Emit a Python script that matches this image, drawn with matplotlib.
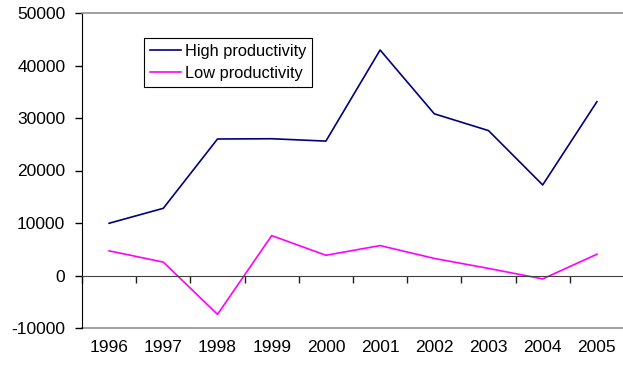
import matplotlib
matplotlib.use("Agg")
import matplotlib.pyplot as plt
import numpy as np

years = ["1996", "1997", "1998", "1999", "2000", "2001", "2002", "2003", "2004", "2005"]
high_productivity = [9950, 12800, 26000, 26050, 25600, 42950, 30800, 27600, 17250, 33100]
low_productivity = [4700, 2550, -7400, 7600, 3850, 5700, 3250, 1350, -650, 4050]
y_ticks = [-10000, 0, 10000, 20000, 30000, 40000, 50000]

plt.rcParams['font.family'] = ['Liberation Sans', 'DejaVu Sans']

fig = plt.figure(figsize=(6.23, 3.71), dpi=100)
ax = fig.add_axes([82/623, 43/371, 542/623, 315/371])

x = np.arange(len(years))
ax.plot(x, high_productivity, color='#000080', lw=1.2, label='High productivity')
ax.plot(x, low_productivity, color='#FF00FF', lw=1.2, label='Low productivity')

ax.set_xlim(-0.5, len(years) - 0.5)
ax.set_ylim(-10000, 50000)
ax.set_yticks(y_ticks)
ax.set_yticklabels([str(v) for v in y_ticks], fontsize=12.5)
ax.tick_params(axis='y', direction='out', length=5, width=1, pad=7, colors='black')

# zero axis with boundary ticks
ax.spines['bottom'].set_position(('data', 0))
ax.spines['bottom'].set_color('#404040')
ax.set_xticks(np.arange(len(years) + 1) - 0.5)
ax.set_xticklabels([])
ax.tick_params(axis='x', direction='out', length=5, width=1, color='#202020')

ax.spines['left'].set_color('black')
ax.spines['top'].set_color('#909090')
ax.spines['top'].set_linewidth(1.2)
ax.spines['right'].set_visible(False)

sec = ax.secondary_xaxis(0.0)
sec.set_xticks(x)
sec.set_xticklabels(years, fontsize=12.5)
sec.tick_params(length=0, pad=9)
sec.spines['bottom'].set_color('#909090')
sec.spines['bottom'].set_linewidth(1.2)

leg = ax.legend(loc='upper left', bbox_to_anchor=(0.114, 0.921), borderaxespad=0,
                fancybox=False, edgecolor='black', fontsize=11.8, handlelength=1.9,
                handletextpad=0.25, labelspacing=0.45, borderpad=0.35, framealpha=1)
leg.get_frame().set_linewidth(0.8)

fig.savefig('out.png', dpi=100)
